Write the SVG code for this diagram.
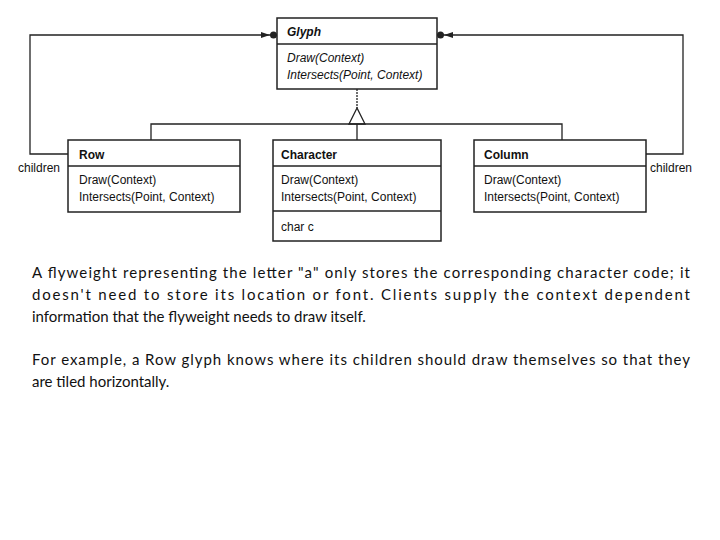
<svg xmlns="http://www.w3.org/2000/svg" width="720" height="540" viewBox="0 0 720 540">
<style>
.box{fill:#fff;stroke:#222;stroke-width:1.5}
.ln{stroke:#222;stroke-width:1.3;fill:none}
.h{font-family:"Liberation Sans",Arial,sans-serif;font-size:12px;font-weight:bold;fill:#111}
.m{font-family:"Liberation Sans",Arial,sans-serif;font-size:12px;fill:#111}
.i{font-style:italic}
.p{font-family:Lato,"Open Sans",sans-serif;font-size:15px;fill:#111}
</style>
<defs>
<marker id="dia" viewBox="0 0 16 8" refX="0" refY="4" markerWidth="16" markerHeight="8" markerUnits="userSpaceOnUse" orient="auto-start-reverse"><path d="M0,4 L8,0 L16,4 L8,8 Z" fill="#fff" stroke="#222" stroke-width="1.2"/></marker>
<marker id="arr" viewBox="0 0 16 8" refX="16" refY="4" markerWidth="16" markerHeight="8" markerUnits="userSpaceOnUse" orient="auto"><path d="M0,1 L9,4 L0,7 Z" fill="#222"/><circle cx="12.5" cy="4" r="3.5" fill="#222"/></marker>
</defs>
<g id="connectors">
<path class="ln" d="M68,154 H30 V35 H277" marker-start="url(#dia)" marker-end="url(#arr)"/>
<path class="ln" d="M646,154 H683 V35 H437" marker-start="url(#dia)" marker-end="url(#arr)"/>
<path class="ln" d="M357,89 V108" stroke-dasharray="2,1"/>
<path class="ln" d="M357,108 L349,124 L365,124 Z" fill="#fff"/>
<path class="ln" d="M151,140 V124 H562 V140 M357,124 V140"/>
</g>
<g id="glyph">
<rect class="box" x="277" y="18" width="160" height="71"/>
<line class="ln" x1="277" y1="44" x2="437" y2="44"/>
<text class="h i" x="287" y="36">Glyph</text>
<text class="m i" x="287" y="62">Draw(Context)</text>
<text class="m i" x="287" y="79">Intersects(Point, Context)</text>
</g>
<g id="row">
<rect class="box" x="68" y="140" width="172" height="72"/>
<line class="ln" x1="68" y1="166" x2="240" y2="166"/>
<text class="h" x="79" y="159">Row</text>
<text class="m" x="79" y="184">Draw(Context)</text>
<text class="m" x="79" y="201">Intersects(Point, Context)</text>
<text class="m" x="18" y="172">children</text>
</g>
<g id="character">
<rect class="box" x="273" y="140" width="168" height="101"/>
<line class="ln" x1="273" y1="166" x2="441" y2="166"/>
<line class="ln" x1="273" y1="211" x2="441" y2="211"/>
<text class="h" x="281" y="159">Character</text>
<text class="m" x="281" y="184">Draw(Context)</text>
<text class="m" x="281" y="201">Intersects(Point, Context)</text>
<text class="m" x="281" y="231">char c</text>
</g>
<g id="column">
<rect class="box" x="474" y="140" width="172" height="72"/>
<line class="ln" x1="474" y1="166" x2="646" y2="166"/>
<text class="h" x="484" y="159">Column</text>
<text class="m" x="484" y="184">Draw(Context)</text>
<text class="m" x="484" y="201">Intersects(Point, Context)</text>
<text class="m" x="650" y="172">children</text>
</g>
<g id="text">
<text class="p" x="32" y="278" textLength="658" lengthAdjust="spacing">A flyweight representing the letter "a" only stores the corresponding character code; it</text>
<text class="p" x="32" y="300" textLength="658" lengthAdjust="spacing">doesn't need to store its location or font. Clients supply the context dependent</text>
<text class="p" x="32" y="322">information that the flyweight needs to draw itself.</text>
<text class="p" x="32" y="365" textLength="658" lengthAdjust="spacing">For example, a  Row glyph knows where its children should draw themselves so that they</text>
<text class="p" x="32" y="387">are tiled horizontally.</text>
</g>
</svg>
